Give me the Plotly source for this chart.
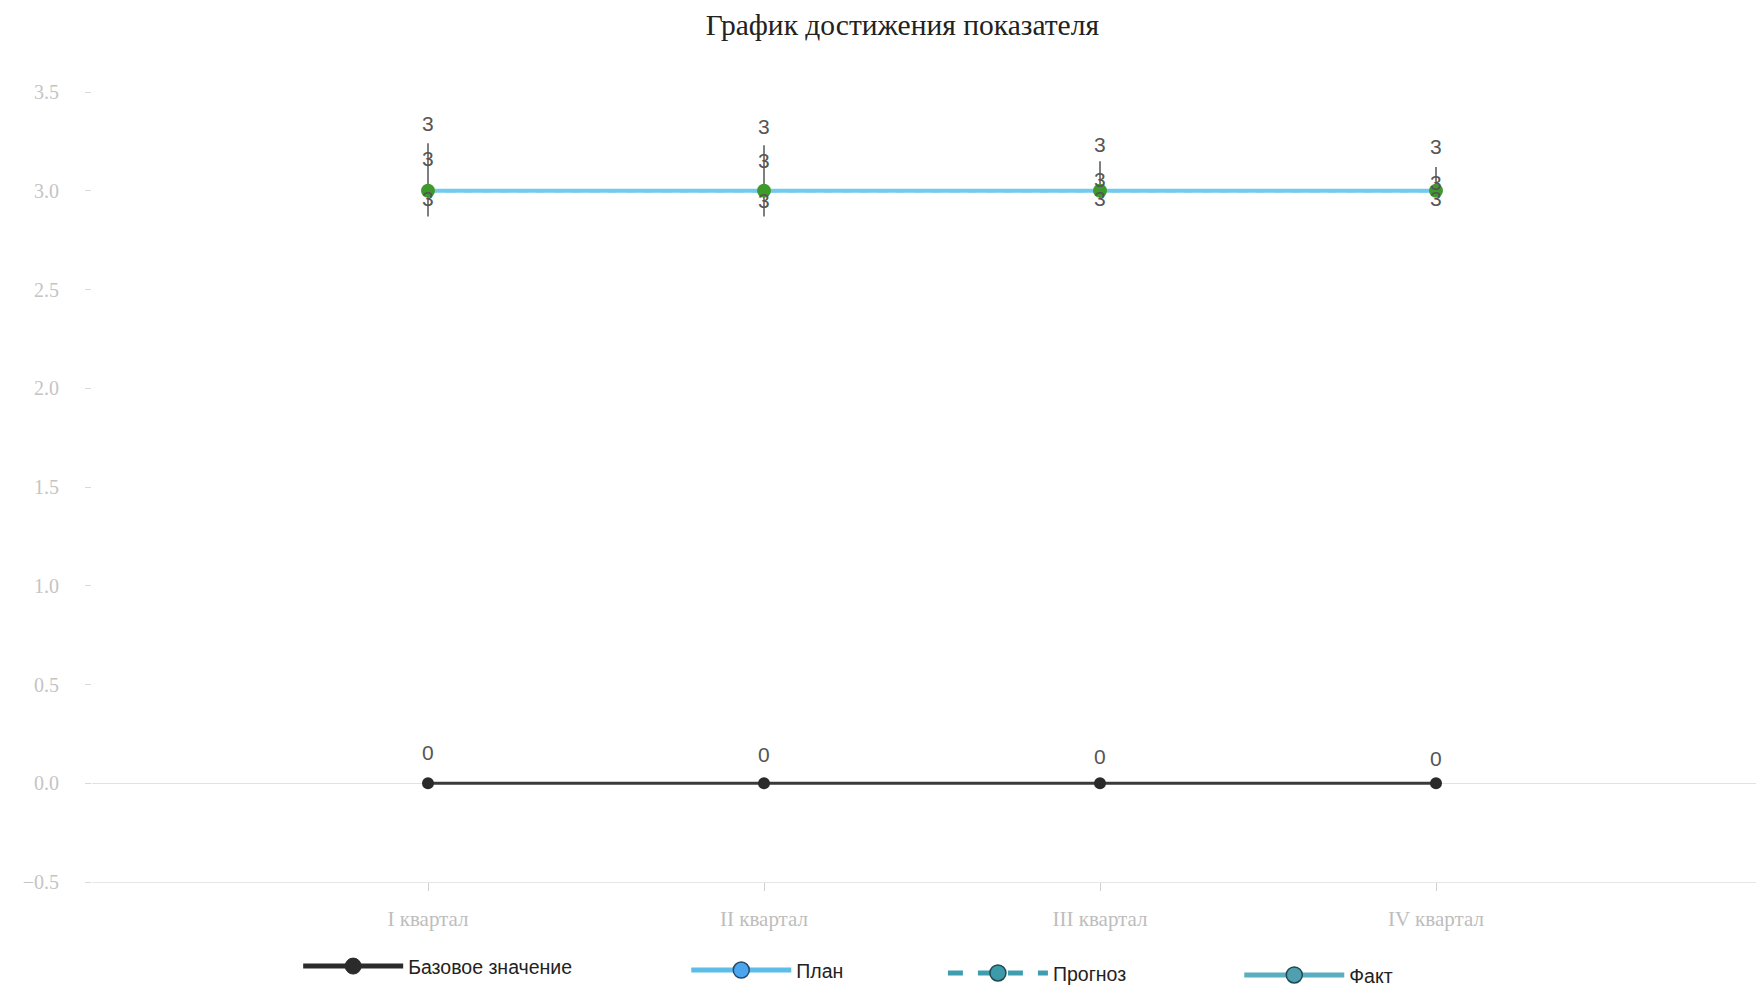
import plotly.graph_objects as go

quarters = ["I квартал", "II квартал", "III квартал", "IV квартал"]
base_vals = [0, 0, 0, 0]
plan_vals = [3, 3, 3, 3]
forecast_vals = [3, 3, 3, 3]
fact_vals = [3, 3, 3, 3]
fact_err_up = [0.24, 0.23, 0.15, 0.12]
fact_err_down = [0.13, 0.13, 0.04, 0.02]

# label offsets (pixels), style only
plan_shift = [67, 64, 46, 44]
forecast_shift = [32, 30, 11, 8]
fact_shift = [-8, -10, -8, -8]
base_shift = [31, 29, 27, 25]

LABEL_FONT = dict(family="Liberation Sans, Arial, sans-serif", size=21, color="#555555")
TICK_FONT = dict(family="Liberation Serif, Times New Roman, serif", size=20, color="#c4c4c4")
XTICK_FONT = dict(family="Liberation Serif, Times New Roman, serif", size=21, color="#bdbdbd")

fig = go.Figure()

# data traces
fig.add_trace(go.Scatter(
    x=quarters, y=forecast_vals, mode="lines", name="Прогноз",
    line=dict(color="#3b9fb3", width=3, dash="dash"), showlegend=False))
fig.add_trace(go.Scatter(
    x=quarters, y=plan_vals, mode="lines", name="План",
    line=dict(color="#72cbee", width=4), showlegend=False))
fig.add_trace(go.Scatter(
    x=quarters, y=fact_vals, mode="markers", name="Факт",
    marker=dict(color="#3f9a2c", size=14),
    error_y=dict(type="data", symmetric=False, array=fact_err_up,
                 arrayminus=fact_err_down, color="#555555", thickness=1.5, width=0),
    showlegend=False))
fig.add_trace(go.Scatter(
    x=quarters, y=base_vals, mode="lines+markers", name="Базовое значение",
    line=dict(color="#3a3a3a", width=3), marker=dict(color="#2a2a2a", size=12),
    showlegend=False))

# legend entries
legend_specs = [
    ("Базовое значение", dict(color="#2b2b2b", width=5, dash="solid"),
     dict(color="#2b2b2b", size=16, line=dict(color="#2b2b2b", width=1)), "legend", 0.1645, 0.028),
    ("План", dict(color="#5bbde8", width=5, dash="solid"),
     dict(color="#4aa6ee", size=16, line=dict(color="#2a4a6a", width=1.5)), "legend2", 0.3845, 0.024),
    ("Прогноз", dict(color="#3f9db0", width=5, dash="dash"),
     dict(color="#3d9aa8", size=16, line=dict(color="#1f4a55", width=1.5)), "legend3", 0.5300, 0.021),
    ("Факт", dict(color="#5aaebf", width=5, dash="solid"),
     dict(color="#4f9fae", size=16, line=dict(color="#1f4a55", width=1.5)), "legend4", 0.6980, 0.019),
]
for name, ln, mk, lg, _, _ in legend_specs:
    fig.add_trace(go.Scatter(x=[None], y=[None], mode="lines+markers", name=name,
                             line=ln, marker=mk, legend=lg, showlegend=True))

annotations = []
for i, q in enumerate(quarters):
    annotations.append(dict(x=q, y=plan_vals[i], text=str(plan_vals[i]), yshift=plan_shift[i],
                            showarrow=False, font=LABEL_FONT))
    annotations.append(dict(x=q, y=forecast_vals[i], text=str(forecast_vals[i]), yshift=forecast_shift[i],
                            showarrow=False, font=LABEL_FONT))
    annotations.append(dict(x=q, y=fact_vals[i], text=str(fact_vals[i]), yshift=fact_shift[i],
                            showarrow=False, font=LABEL_FONT))
    annotations.append(dict(x=q, y=base_vals[i], text=str(base_vals[i]), yshift=base_shift[i],
                            showarrow=False, font=LABEL_FONT))

legend_common = dict(orientation="h", xref="container", yref="container",
                     xanchor="left", yanchor="middle", itemwidth=100,
                     bgcolor="rgba(0,0,0,0)",
                     font=dict(family="Liberation Sans, Arial, sans-serif", size=19.5, color="#222222"))
layout_legends = {}
for _, _, _, lg, lx, ly in legend_specs:
    layout_legends[lg] = dict(legend_common, x=lx, y=ly)

fig.update_layout(
    width=1764, height=986,
    paper_bgcolor="white", plot_bgcolor="white",
    margin=dict(l=84, r=0, t=84, b=112),
    title=dict(text="График достижения показателя", xref="container", yref="container",
               x=0.507, y=0.983, xanchor="center", yanchor="middle",
               font=dict(family="Liberation Serif, Times New Roman, serif", size=29.5, color="#222222")),
    xaxis=dict(type="category", range=[-1, 4], showgrid=False, zeroline=False,
               showline=True, linecolor="#e6e6e6", linewidth=1,
               ticks="outside", ticklen=8, tickcolor="#d0d0d0",
               ticklabelstandoff=10, tickfont=XTICK_FONT),
    yaxis=dict(range=[-0.5, 3.5], dtick=0.5, tickformat=".1f", showgrid=False,
               zeroline=True, zerolinecolor="#e2e2e2", zerolinewidth=1,
               showline=False, ticks="outside", ticklen=6, tickcolor="#d8d8d8",
               ticklabelstandoff=22, tickfont=TICK_FONT),
    annotations=annotations,
    **layout_legends,
)

fig.write_html("out.html")
